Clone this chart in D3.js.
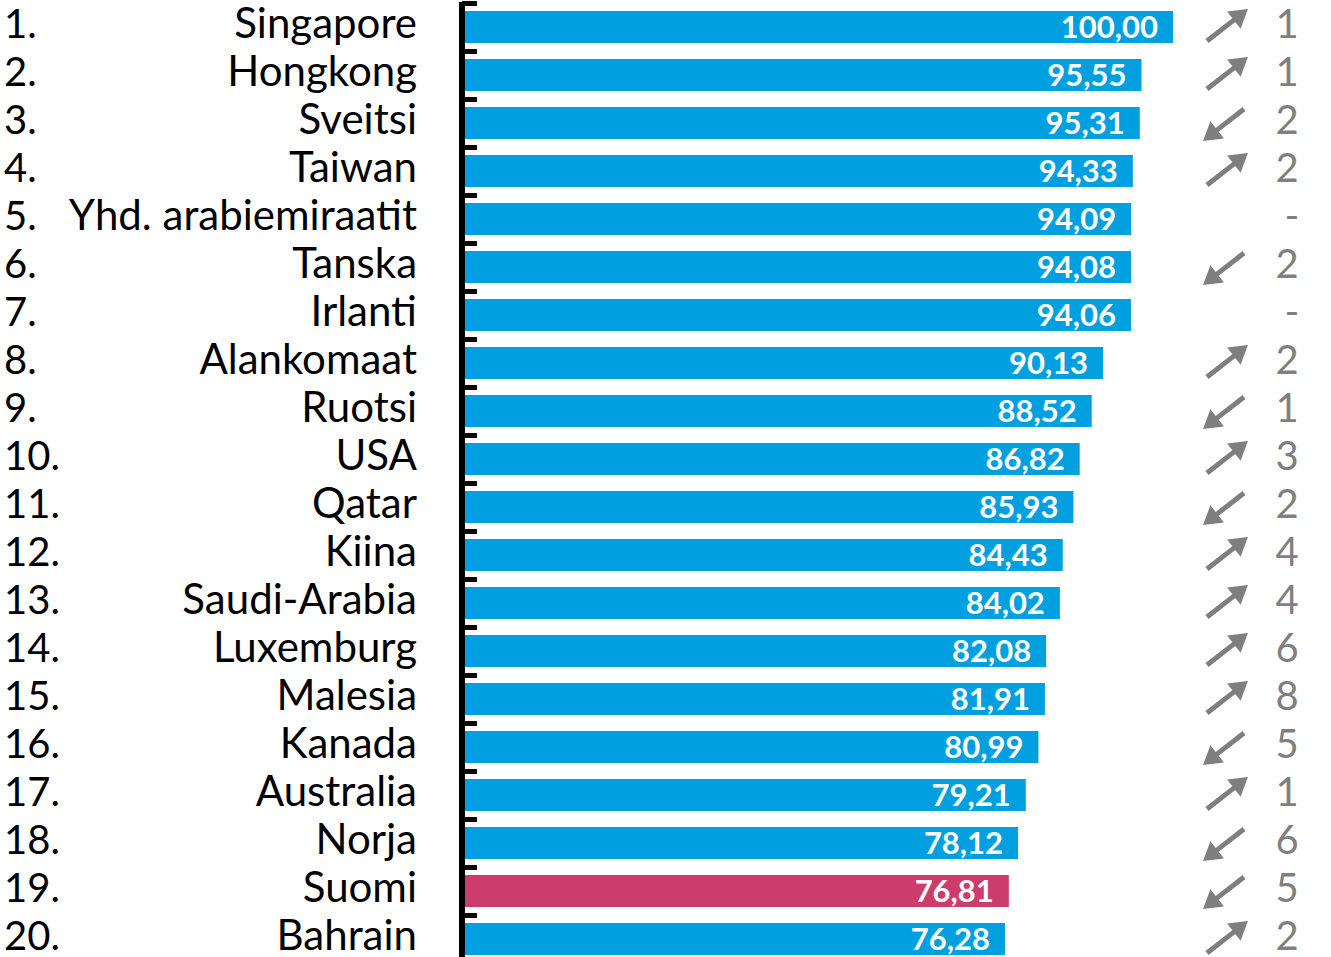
<!DOCTYPE html>
<html>
<head>
<meta charset="utf-8">
<script src="https://cdn.jsdelivr.net/npm/d3@7"></script>
<style>
  body { margin: 0; background: #fff; }
  text { font-family: Lato, "Open Sans", sans-serif; }
</style>
</head>
<body>
<div id="chart"></div>
<script>
// Data
const countries = ["Singapore", "Hongkong", "Sveitsi", "Taiwan", "Yhd. arabiemiraatit",
  "Tanska", "Irlanti", "Alankomaat", "Ruotsi", "USA", "Qatar", "Kiina", "Saudi-Arabia",
  "Luxemburg", "Malesia", "Kanada", "Australia", "Norja", "Suomi", "Bahrain"];
const scores = [100.00, 95.55, 95.31, 94.33, 94.09, 94.08, 94.06, 90.13, 88.52, 86.82,
  85.93, 84.43, 84.02, 82.08, 81.91, 80.99, 79.21, 78.12, 76.81, 76.28];
// rank change vs previous year: positive = up, negative = down, 0 = no change
const changes = [1, 1, -2, 2, 0, -2, 0, 2, -1, 3, -2, 4, 4, 6, 8, -5, 1, -6, -5, 2];
const highlight = "Suomi";

const width = 1331;
const height = 957;
const blue = "#009fe0";
const pink = "#cc3d6e";
const grey = "#7f7f7f";

const rows = countries.map((c, i) => ({ rank: i + 1, name: c, value: scores[i], change: changes[i] }));

const svg = d3.select("#chart")
  .append("svg")
  .attr("width", width)
  .attr("height", height);

const x = d3.scaleLinear().domain([0, 100]).range([465, 1173]);
const y = d3.scaleBand()
  .domain(countries)
  .range([3, 3 + 48 * countries.length])
  .paddingInner(1 / 3)
  .paddingOuter(1 / 6);

const fmt = v => v.toFixed(2).replace(".", ",");
const band = y.step();

// Bars
svg.selectAll("rect.bar")
  .data(rows)
  .enter()
  .append("rect")
  .attr("class", "bar")
  .attr("x", x(0))
  .attr("y", d => y(d.name))
  .attr("width", d => x(d.value) - x(0))
  .attr("height", y.bandwidth())
  .attr("fill", d => d.name === highlight ? pink : blue);

// Axis line with ticks at band boundaries
svg.append("line")
  .attr("x1", 462).attr("x2", 462)
  .attr("y1", 2).attr("y2", height)
  .attr("stroke", "#000")
  .attr("stroke-width", 6);

svg.selectAll("line.tick")
  .data(rows)
  .enter()
  .append("line")
  .attr("class", "tick")
  .attr("x1", 462).attr("x2", 477)
  .attr("y1", d => y(d.name) - y.paddingInner() * band / 2 + 0.5)
  .attr("y2", d => y(d.name) - y.paddingInner() * band / 2 + 0.5)
  .attr("stroke", "#000")
  .attr("stroke-width", 5);

const cy = d => y(d.name) + y.bandwidth() / 2;

// Value labels
svg.selectAll("text.value")
  .data(rows)
  .enter()
  .append("text")
  .attr("class", "value")
  .attr("x", d => x(d.value) - 15)
  .attr("y", d => cy(d) + 11)
  .attr("text-anchor", "end")
  .attr("fill", "#fff")
  .style("font-size", "31px")
  .style("font-weight", "bold")
  .text(d => fmt(d.value));

// Rank numbers
svg.selectAll("text.rank")
  .data(rows)
  .enter()
  .append("text")
  .attr("class", "rank")
  .attr("x", 4)
  .attr("y", d => cy(d) + 11)
  .style("font-size", "40px")
  .attr("fill", "#000")
  .text(d => d.rank + ".");

// Country names
svg.selectAll("text.name")
  .data(rows)
  .enter()
  .append("text")
  .attr("class", "name")
  .attr("x", 417)
  .attr("y", d => cy(d) + 11)
  .attr("text-anchor", "end")
  .style("font-size", "42px")
  .attr("fill", "#000")
  .text(d => d.name);

// Arrows: shaft + triangular head
const headLen = 18, headHalf = 11;
function arrowPath(x1, y1, x2, y2) {
  const len = Math.hypot(x2 - x1, y2 - y1);
  const ux = (x2 - x1) / len, uy = (y2 - y1) / len;
  const bx = x2 - ux * headLen, by = y2 - uy * headLen;
  const px = -uy * headHalf, py = ux * headHalf;
  return `M${bx + px},${by + py}L${x2},${y2}L${bx - px},${by - py}Z`;
}

const moved = rows.filter(d => d.change !== 0);
const ends = d => d.change > 0
  ? [1207, cy(d) + 14, 1248, cy(d) - 18]
  : [1244, cy(d) - 14, 1203, cy(d) + 18];

const arrows = svg.selectAll("g.arrow")
  .data(moved)
  .enter()
  .append("g")
  .attr("class", "arrow");

arrows.append("line")
  .attr("x1", d => ends(d)[0])
  .attr("y1", d => ends(d)[1])
  .attr("x2", d => { const e = ends(d); return e[2] - (e[2] - e[0]) * 0.3; })
  .attr("y2", d => { const e = ends(d); return e[3] - (e[3] - e[1]) * 0.3; })
  .attr("stroke", grey)
  .attr("stroke-width", 5);

arrows.append("path")
  .attr("d", d => arrowPath(...ends(d)))
  .attr("fill", grey);

// Change numbers
svg.selectAll("text.change")
  .data(rows)
  .enter()
  .append("text")
  .attr("class", "change")
  .attr("x", d => d.change === 0 ? 1292 : 1287)
  .attr("y", d => cy(d) + 11)
  .attr("text-anchor", "middle")
  .style("font-size", "40px")
  .attr("fill", grey)
  .text(d => d.change === 0 ? "-" : Math.abs(d.change));
</script>
</body>
</html>
